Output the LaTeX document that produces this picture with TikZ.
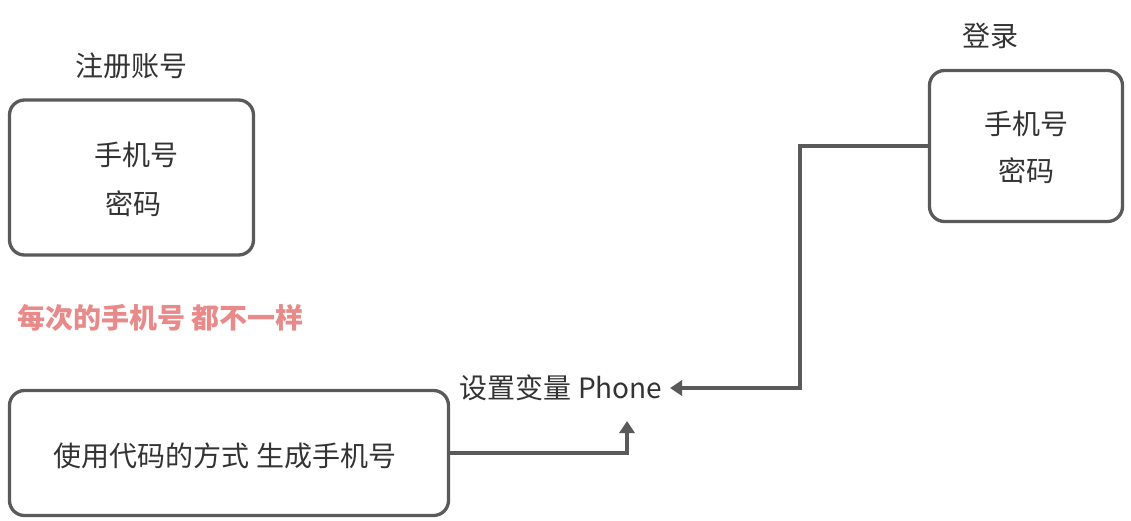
\documentclass[tikz,border=0pt]{standalone}
\usepackage{fontspec}
\setmainfont{Noto Sans CJK SC}
\usetikzlibrary{arrows.meta}
\definecolor{linegray}{HTML}{5A5A5A}
\definecolor{txt}{HTML}{333333}
\definecolor{note}{HTML}{E88A8A}
\begin{document}
\begin{tikzpicture}[x=1pt,y=-1pt,
  box/.style={draw=linegray,line width=3.3pt,rounded corners=15pt,fill=white},
  lbl/.style={text=txt,font=\fontsize{28}{32}\selectfont,inner sep=0pt},
  conn/.style={draw=linegray,line width=3.3pt,-{Triangle[width=15pt,length=12pt]}}]
\fill[white] (0,0) rectangle (1131,520);
\useasboundingbox (0,0) rectangle (1131,520);
\node[box,minimum width=244pt,minimum height=155pt] (b1) at (131.5,177.5) {};
\node[box,minimum width=439pt,minimum height=125pt] (b2) at (229,453) {};
\node[box,minimum width=193pt,minimum height=151pt] (b3) at (1026,146) {};
\node[lbl] (t1) at (131,66) {注册账号};
\node[lbl] (p1) at (136,155) {手机号};
\node[lbl] (m1) at (133,204) {密码};
\node[lbl] (t3) at (990,36) {登录};
\node[lbl] (p3) at (1026,124) {手机号};
\node[lbl] (m3) at (1026,171) {密码};
\node[lbl] (g) at (225,456) {使用代码的方式 生成手机号};
\node[lbl] (ph) at (561,388) {设置变量 Phone};
\node[text=note,font=\fontsize{28}{32}\selectfont\bfseries,inner sep=0pt,anchor=west] (n) at (17,318) {每次的手机号 都不一样};
\coordinate (e1) at (627,421);
\coordinate (e2) at (670,388);
\draw[conn] (b2.east) -| (e1);
\draw[conn] (b3.west) -- ++(-128,0) |- (e2);
\end{tikzpicture}
\end{document}
